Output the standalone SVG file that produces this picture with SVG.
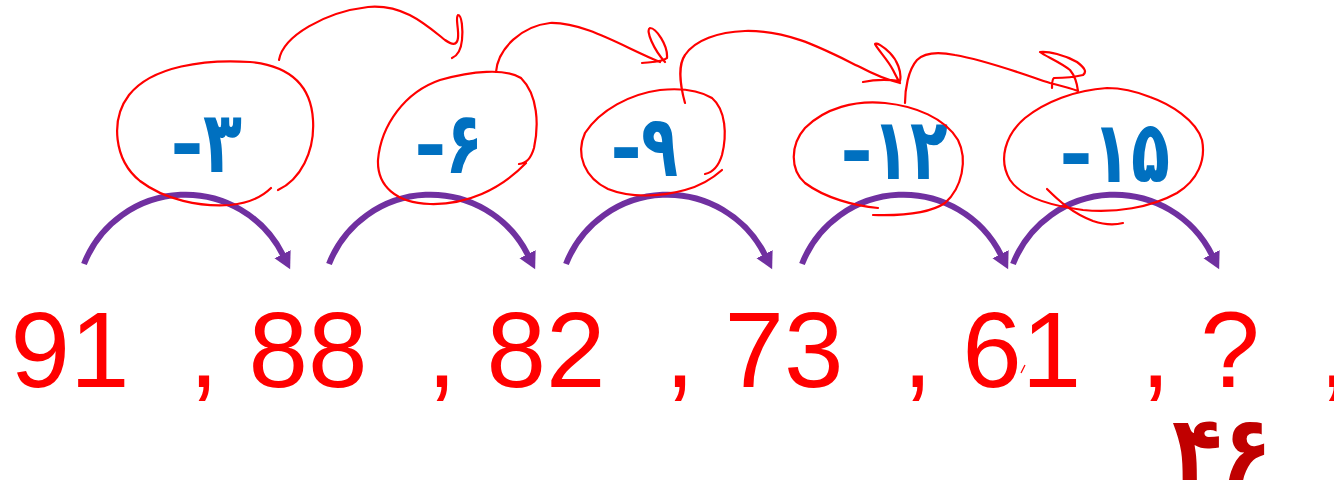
<svg xmlns="http://www.w3.org/2000/svg" width="1334" height="499" viewBox="0 0 1334 499">
<style>
.num{font-family:"Liberation Sans",Arial,sans-serif;font-size:107px;fill:#FF0000;white-space:pre}
.lbl{font-family:"DejaVu Sans",sans-serif;font-size:86px;font-weight:bold;fill:#0070C0;direction:ltr;unicode-bidi:bidi-override}
.ans{font-family:"DejaVu Sans",sans-serif;font-size:90px;font-weight:bold;fill:#C00000}
.arc{fill:none;stroke:#7030A0;stroke-width:6;marker-end:url(#ah)}
.ink{fill:none;stroke:#FF0000;stroke-width:2.2;stroke-linecap:round;stroke-linejoin:round}
</style>
<defs>
<marker id="ah" markerUnits="userSpaceOnUse" markerWidth="20" markerHeight="20" viewBox="0 -10 20 20" refX="1" refY="0" orient="auto">
<path d="M0,-9 L17,0 L0,9 Z" fill="#7030A0"/>
</marker>
</defs>
<rect width="1334" height="499" fill="#FFFFFF"/>

<g id="connectors">
<path class="arc" d="M84,264 A109,109 0 0 1 283,255"/>
<path class="arc" d="M329,264 A109,109 0 0 1 528,255"/>
<path class="arc" d="M566,264 A109,109 0 0 1 765,255"/>
<path class="arc" d="M802,264 A109,109 0 0 1 1001,255"/>
<path class="arc" d="M1013,264 A109,109 0 0 1 1212,255"/>
</g>

<g id="numbers">
<text class="num" x="10.6" y="387" xml:space="preserve">91  , 88  , 82  , 73  , 61  , ?  ,</text>
<path d="M1021,373 L1025,365" stroke="#FF0000" stroke-width="1.2" fill="none"/>
</g>

<g id="labels">
<text class="lbl" x="171" y="172" textLength="71" lengthAdjust="spacingAndGlyphs">–۳</text>
<text class="lbl" x="415" y="173" textLength="68" lengthAdjust="spacingAndGlyphs">–۶</text>
<text class="lbl" x="611" y="176" textLength="67" lengthAdjust="spacingAndGlyphs">–۹</text>
<text class="lbl" x="841" y="179" textLength="107" lengthAdjust="spacingAndGlyphs">–۱۲</text>
<text class="lbl" x="1060" y="182" textLength="110" lengthAdjust="spacingAndGlyphs">–۱۵</text>
</g>

<g id="answer">
<text class="ans" x="1172" y="480" textLength="100" lengthAdjust="spacingAndGlyphs">۴۶</text>
</g>

<g id="ink">
<path class="ink" d="M278,190 C300,180 315,152 313,120 C311,85 290,66 250,62 C205,59 152,66 129,95 C110,120 114,160 140,181 C165,200 200,207 230,205 C250,203 263,196 271,188"/>
<path class="ink" d="M279,60 C283,36 325,12 368,7 C403,4 425,24 445,40 C452,45 457,46 458,38 C459,28 455,18 458,15 C462,15 463,30 462,40 C461,50 457,56 452,58"/>
<path class="ink" d="M519,164 C527,163 531,158 534,148 C539,125 538,95 521,78 C505,68 472,71 440,80 C405,92 381,125 378,160 C377,186 396,203 430,204 C466,205 500,190 526,163"/>
<path class="ink" d="M496,72 C498,48 522,26 550,23 C585,22 625,48 660,62 M642,63 C652,62 663,62 667,58 C668,45 656,28 650,28 C645,30 654,50 665,62"/>
<path class="ink" d="M705,174 C714,172 719,165 722,155 C727,135 726,110 712,98 C697,89 680,88 660,90 C630,94 600,110 585,133 C575,155 585,178 608,189 C630,198 660,197 685,190 C700,186 712,179 722,170"/>
<path class="ink" d="M685,103 C680,85 678,65 685,55 C695,40 718,32 745,31 C790,30 825,50 860,67 C875,75 888,80 900,83 M863,82 C872,80 886,79 900,81 C902,72 897,60 890,53 C883,46 876,42 875,44 C878,50 888,60 893,70 C896,76 898,80 900,83"/>
<path class="ink" d="M878,208 C855,206 825,198 805,183 C790,170 790,145 805,128 C825,108 855,100 885,103 C915,106 945,118 958,140 C968,160 962,188 945,203 C930,213 905,216 873,215"/>
<path class="ink" d="M905,103 C905,90 908,70 917,60 C925,52 940,52 955,55 C985,60 1020,73 1050,83 C1062,86 1070,88 1078,91 M1052,88 C1052,83 1052,79 1054,78 C1062,78 1075,77 1083,75 C1087,72 1085,68 1077,62 C1065,55 1048,51 1040,52 C1045,56 1060,62 1070,70 C1075,76 1077,83 1078,91"/>
<path class="ink" d="M1107,88 C1075,90 1045,102 1025,118 C1005,135 998,160 1010,180 C1020,195 1045,205 1083,210 C1115,213 1150,208 1177,193 C1198,180 1206,160 1202,140 C1196,120 1170,104 1150,97 C1135,91 1120,88 1107,88 Z"/>
<path class="ink" d="M1047,189 C1058,200 1072,213 1093,221 C1105,225 1115,225 1123,223"/>
</g>
</svg>
